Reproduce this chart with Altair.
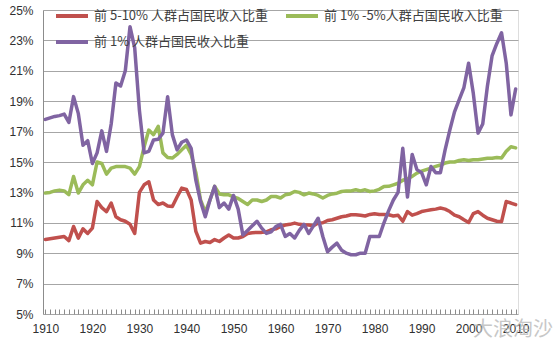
import altair as alt
import pandas as pd

years = list(range(1910, 2011))

# 前 5-10%
top5_10 = [
    9.9, 9.95, 10.0, 10.05, 10.1, 9.83, 10.76, 9.99, 10.6, 10.3,          # 1910-1919
    10.65, 12.4, 12.0, 11.74, 12.3, 11.4, 11.2, 11.1, 10.9, 10.3,        # 1920-1929
    13.0, 13.5, 13.7, 12.5, 12.2, 12.3, 12.1, 12.07, 12.7, 13.28,        # 1930-1939
    13.2, 12.5, 10.43, 9.66, 9.77, 9.7, 9.9, 9.77, 10.0, 10.2,           # 1940-1949
    10.0, 10.0, 10.1, 10.3, 10.35, 10.37, 10.37, 10.4, 10.54, 10.6,      # 1950-1959
    10.76, 10.85, 10.9, 10.98, 10.9, 10.87, 10.85, 10.8, 10.98, 11.0,    # 1960-1969
    11.15, 11.2, 11.3, 11.4, 11.45, 11.53, 11.53, 11.5, 11.45, 11.55,    # 1970-1979
    11.6, 11.55, 11.55, 11.53, 11.45, 11.5, 11.1, 11.74, 11.5, 11.6,     # 1980-1989
    11.74, 11.8, 11.86, 11.9, 11.97, 11.9, 11.74, 11.5, 11.4, 11.2,      # 1990-1999
    11.02, 11.6, 11.74, 11.5, 11.3, 11.2, 11.1, 11.08, 12.4, 12.3,       # 2000-2009
    12.19,                                                               # 2010
]

# 前 1%-5%
top1_5 = [
    12.96, 13.0, 13.1, 13.15, 13.1, 12.85, 14.05, 12.96, 13.5, 13.8,     # 1910-1919
    13.5, 15.0, 14.9, 14.2, 14.6, 14.7, 14.7, 14.7, 14.6, 14.2,          # 1920-1929
    14.7, 16.0, 17.1, 16.8, 17.35, 15.6, 15.3, 15.26, 15.5, 15.8,        # 1930-1939
    16.1, 15.5, 14.3, 12.5, 11.7, 12.5, 13.4, 12.9, 12.85, 12.84,        # 1940-1949
    12.7, 12.6, 12.4, 12.2, 12.5, 12.5, 12.4, 12.5, 12.73, 12.73,        # 1950-1959
    12.63, 12.84, 12.9, 13.06, 13.0, 12.84, 12.96, 12.9, 12.8, 12.63,    # 1960-1969
    12.8, 12.9, 12.95, 13.06, 13.1, 13.1, 13.17, 13.1, 13.17, 13.06,     # 1970-1979
    13.1, 13.2, 13.39, 13.4, 13.5, 13.6, 13.8, 13.9, 14.05, 14.27,       # 1980-1989
    14.4, 14.5, 14.6, 14.71, 14.8, 14.93, 15.0, 15.0, 15.1, 15.15,       # 1990-1999
    15.1, 15.15, 15.15, 15.2, 15.25, 15.25, 15.3, 15.26, 15.7, 16.0,     # 2000-2009
    15.93,                                                               # 2010
]

# 前 1%
top1 = [
    17.8, 17.9, 18.0, 18.05, 18.15, 17.6, 19.3, 18.2, 16.1, 16.4,        # 1910-1919
    14.9, 15.6, 17.05, 15.7, 17.5, 20.2, 20.0, 21.0, 23.9, 22.5,         # 1920-1929
    18.4, 15.6, 15.7, 16.45, 16.5, 16.9, 19.3, 16.8, 15.8, 16.3,         # 1930-1939
    16.45, 15.9, 13.8, 12.4, 11.4, 12.5, 13.4, 12.0, 12.3, 11.9,         # 1940-1949
    12.8, 11.9, 10.2, 10.5, 10.8, 11.1, 10.65, 10.3, 10.4, 10.75,        # 1950-1959
    10.9, 10.1, 10.3, 10.0, 10.5, 10.9, 10.3, 10.8, 11.3, 10.1,          # 1960-1969
    9.1, 9.4, 9.66, 9.2, 9.0, 8.9, 8.9, 9.0, 9.0, 10.1,                  # 1970-1979
    10.1, 10.1, 11.0, 11.8, 12.5, 13.0, 15.9, 12.7, 15.5, 14.5,          # 1980-1989
    14.3, 13.5, 14.7, 14.3, 14.3, 15.8, 17.1, 18.3, 19.1, 19.9,          # 1990-1999
    21.5, 19.5, 16.9, 17.5, 20.0, 22.0, 22.8, 23.5, 21.5, 18.1,          # 2000-2009
    19.8,                                                                # 2010
]

series_names = ["前 5-10% 人群占国民收入比重", "前 1% -5%人群占国民收入比重", "前 1% 人群占国民收入比重"]
series_colors = ["#C0504D", "#9BBB59", "#8064A2"]
y_ticks = [5, 7, 9, 11, 13, 15, 17, 19, 21, 23, 25]
x_tick_years = list(range(1910, 2011))
watermark = ["大浪淘沙"]

rows = []
for name, vals in zip(series_names, [top5_10, top1_5, top1]):
    for yr, v in zip(years, vals):
        rows.append({"year": yr, "value": v, "series": name, "order": series_names.index(name)})
df = pd.DataFrame(rows)

lines = alt.Chart(df).mark_line(strokeWidth=3.5, strokeJoin="round", strokeCap="round").encode(
    x=alt.X("year:Q",
            scale=alt.Scale(domain=[1909.5, 2010.5], nice=False, zero=False),
            axis=alt.Axis(values=x_tick_years, labelExpr="datum.value % 10 == 0 ? datum.value : ''",
                          title=None, grid=False, domain=False, tickSize=5, offset=-5,
                          tickColor="#8c8c8c", labelPadding=9, labelFontSize=12,
                          labelColor="#303030", labelFont="Liberation Sans", labelFlush=False)),
    y=alt.Y("value:Q",
            scale=alt.Scale(domain=[5, 25], nice=False, zero=False),
            axis=alt.Axis(values=y_ticks, labelExpr="datum.value + '%'", title=None,
                          grid=True, gridColor="#a6a6a6", gridWidth=1, ticks=False,
                          domain=True, domainColor="#8c8c8c", labelPadding=10,
                          labelFontSize=12, labelColor="#303030", labelFont="Liberation Sans")),
    color=alt.Color("series:N",
                    scale=alt.Scale(domain=series_names, range=series_colors),
                    legend=alt.Legend(orient="none", legendX=17, legendY=-6, columns=2,
                                      direction="horizontal", title=None,
                                      symbolType="M-1.6,0H1.6", symbolSize=400,
                                      symbolStrokeWidth=4, labelOffset=10,
                                      columnPadding=10, rowPadding=6,
                                      labelFontSize=13, labelColor="#404040",
                                      labelFont="Noto Sans CJK SC", labelLimit=300)),
    order=alt.Order("order:Q"),
)

wm = alt.Chart(pd.DataFrame({"t": watermark})).mark_text(
    fontSize=20, font="Noto Sans CJK SC", color="#b5b5b5", opacity=0.75, align="left", baseline="middle"
).encode(text="t:N", x=alt.value(430), y=alt.value(320))

chart = alt.layer(lines, wm).properties(
    width=475, height=304,
    autosize=alt.AutoSizeParams(type="none"),
    padding={"left": 43, "top": 10, "right": 42, "bottom": 41},
).configure_view(stroke=None).configure(background="white")

chart.save("out.html", embed_options={"renderer": "svg", "actions": False})
